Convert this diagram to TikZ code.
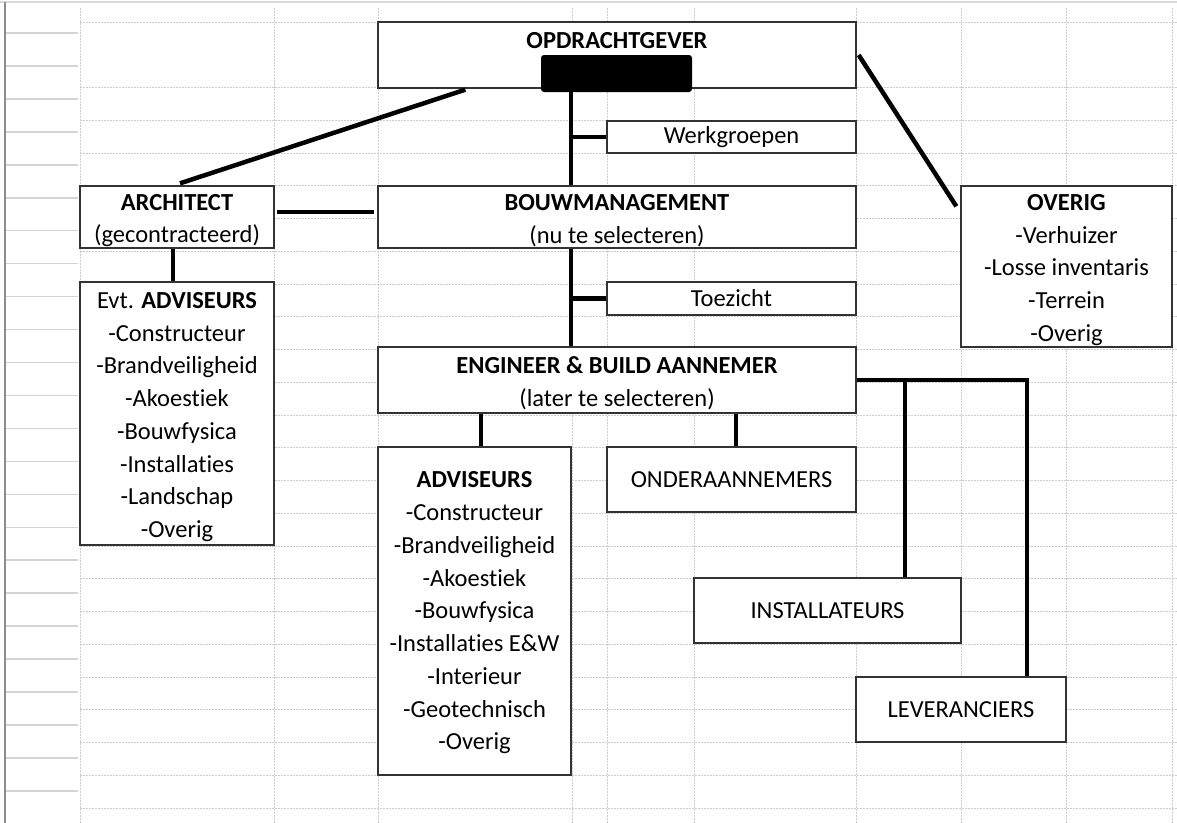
\documentclass[tikz,border=0pt]{standalone}
\usepackage{fontspec}
\setmainfont{Carlito}[RawFeature=-liga]
\usetikzlibrary{calc}
\begin{document}
\begin{tikzpicture}[x=1bp,y=-1bp,
  gridv/.style={draw=black!20,line width=1bp,dash pattern=on 2bp off 1bp},
  hdr/.style={draw=black!17,line width=1.5bp},
  box/.style={draw=black!80,line width=1.3bp,fill=white,rectangle,inner sep=0pt,
    align=center,font=\fontsize{24.5bp}{32.75bp}\selectfont},
  txt/.style={inner sep=0pt,align=center,font=\fontsize{24.5bp}{32.75bp}\selectfont},
  conn/.style={draw=black,line width=4.5bp}]
\useasboundingbox (0,0) rectangle (1177,823);
% sheet frame
\draw[draw=black!15,line width=2bp] (0,2) -- (1177,2);
\draw[draw=black!45,line width=1.5bp] (5,2) -- (5,823);
\foreach \k in {0,...,24} {\draw[hdr] (6,{33+32.95*\k}) -- (78,{33+32.95*\k});}
% grid
\foreach \gx in {80,274,378,572,607,694,856,961,1066,1172} {\draw[gridv] (\gx,8) -- (\gx,823);}
\draw[gridv] (80,22) -- (1177,22);
\foreach \k in {2,...,24} {\draw[gridv] (80,{22+32.75*\k}) -- (1177,{22+32.75*\k});}
% boxes
\node[box,minimum width=478bp,minimum height=66bp] (opd) at (617,55) {};
\node[txt] (opdt) at (617,41) {\textbf{OPDRACHTGEVER}};
\node[fill=black,rounded corners=3bp,minimum width=151bp,minimum height=37bp,inner sep=0pt] (blk) at (616.5,73.5) {};
\node[box,minimum width=249bp,minimum height=32bp] (werk) at (731.5,137) {Werkgroepen};
\node[box,minimum width=194bp,minimum height=62bp] (arch) at (177,217) {};
\node[txt] (archt) at ([yshift=-3.5bp]arch.center) {\textbf{ARCHITECT}\\(gecontracteerd)};
\node[box,minimum width=478bp,minimum height=62bp] (bouw) at (617,217) {};
\node[txt] (bouwt) at ([yshift=-3.5bp]bouw.center) {\textbf{BOUWMANAGEMENT}\\(nu te selecteren)};
\node[box,minimum width=211bp,minimum height=161bp] (overig) at (1066.5,266.5) {};
\node[txt] (overigt) at ([yshift=-3.5bp]overig.center) {\textbf{OVERIG}\\-Verhuizer\\-Losse inventaris\\-Terrein\\-Overig};
\node[box,minimum width=194bp,minimum height=263bp] (evt) at (177,413.5) {};
\node[txt] (evtt) at ([yshift=-3.5bp]evt.center) {Evt. \textbf{ADVISEURS}\\-Constructeur\\-Brandveiligheid\\-Akoestiek\\-Bouwfysica\\-Installaties\\-Landschap\\-Overig};
\node[box,minimum width=249bp,minimum height=33bp] (toez) at (731.5,298.5) {Toezicht};
\node[box,minimum width=478bp,minimum height=66bp] (eng) at (617,380) {};
\node[txt] (engt) at ([yshift=-3.5bp]eng.center) {\textbf{ENGINEER \& BUILD AANNEMER}\\(later te selecteren)};
\node[box,minimum width=193bp,minimum height=328bp] (adv) at (474.5,611) {};
\node[txt] (advt) at ([yshift=-2bp]adv.center) {\textbf{ADVISEURS}\\-Constructeur\\-Brandveiligheid\\-Akoestiek\\-Bouwfysica\\-Installaties E\&W\\-Interieur\\-Geotechnisch\\-Overig};
\node[box,minimum width=249bp,minimum height=65bp] (onder) at (731.5,479.5) {ONDERAANNEMERS};
\node[box,minimum width=267bp,minimum height=65bp] (inst) at (827.5,610.5) {INSTALLATEURS};
\node[box,minimum width=210bp,minimum height=65bp] (lev) at (961,709.5) {LEVERANCIERS};
% helper coordinates
\coordinate (sp) at (571,0);
\coordinate (ca) at (481,0);
\coordinate (co) at (736,0);
\coordinate (ci) at (905,0);
\coordinate (jl) at (1027,380);
% connectors
\draw[conn] (blk.south -| sp) -- (bouw.north -| sp);
\draw[conn] (werk.west) -- (werk.west -| sp);
\draw[conn] (bouw.south -| sp) -- (eng.north -| sp);
\draw[conn] (toez.west) -- (toez.west -| sp);
\draw[conn] ($(opd.south west)+(88,1)$) -- ($(arch.north)+(3,-2)$);
\draw[conn] ($(opd.east)+(2,0)$) -- ($(overig.north west)+(-4,21)$);
\draw[conn] ($(arch.east)+(2,-5)$) -- ($(bouw.west)+(-3,-5)$);
\draw[conn] ($(arch.south)+(-4,0)$) -- ($(evt.north)+(-4,0)$);
\draw[conn] (eng.south -| ca) -- (adv.north -| ca);
\draw[conn] (eng.south -| co) -- (onder.north -| co);
\draw[conn,line join=miter] (eng.east) -- (jl) -- (lev.north -| jl);
\draw[conn] (eng.east -| ci) -- (inst.north -| ci);
\end{tikzpicture}
\end{document}
